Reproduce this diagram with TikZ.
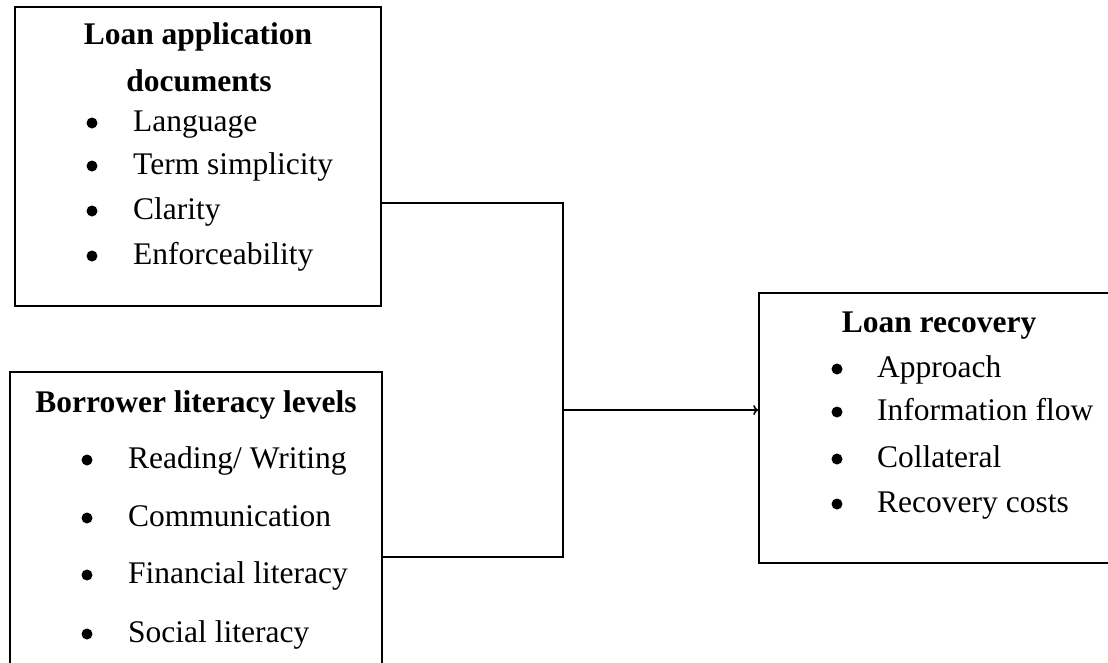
\documentclass[tikz,border=0pt]{standalone}
\usepackage{fontspec}
\setmainfont{Liberation Serif}
\usetikzlibrary{calc,arrows.meta}
\tikzset{
	box/.style={draw, line width=1.6pt, inner sep=0pt},
	txt/.style={font=\fontsize{31.5}{38}\selectfont, inner sep=0pt},
	dot/.style={circle, fill, inner sep=0pt, minimum size=11pt},
	item/.style={txt, anchor=mid west},
	head/.style={txt, font=\fontsize{31.5}{38}\selectfont\bfseries}
}

\begin{document}
\begin{tikzpicture}[x=1pt, y=-1pt]
		%%%%% START %%%%%
		\useasboundingbox (0, 0) rectangle (1108, 662);
		
		\node[box, minimum width=366pt, minimum height=299pt] (docs) at (198, 156.5) {};
		\node[box, minimum width=372pt, minimum height=318pt] (lit) at (196, 531) {};
		\node[box, minimum width=361pt, minimum height=270pt] (rec) at (939.5, 428) {};
		
		\node[head] (docsA) at (198, 37) {Loan application};
		\node[head] (docsB) at (199, 81) {documents};
		\node[dot] (b1) at (92, 123) {};
		\node[item] (i1) at (133, 129) {Language};
		\node[dot] (b2) at (92, 166) {};
		\node[item] (i2) at (133, 172) {Term simplicity};
		\node[dot] (b3) at (92, 211) {};
		\node[item] (i3) at (133, 217) {Clarity};
		\node[dot] (b4) at (92, 256) {};
		\node[item] (i4) at (133, 262) {Enforceability};
		
		\node[head] (litA) at (196, 405) {Borrower literacy levels};
		\node[dot] (c1) at (87, 460) {};
		\node[item] (j1) at (128, 466) {Reading/ Writing};
		\node[dot] (c2) at (87, 518) {};
		\node[item] (j2) at (128, 524) {Communication};
		\node[dot] (c3) at (87, 575) {};
		\node[item] (j3) at (128, 581) {Financial literacy};
		\node[dot] (c4) at (87, 634) {};
		\node[item] (j4) at (128, 640) {Social literacy};
		
		\node[head] (recA) at (939, 326) {Loan recovery};
		\node[dot] (e1) at (837, 369) {};
		\node[item] (k1) at (877, 375) {Approach};
		\node[dot] (e2) at (837, 412) {};
		\node[item] (k2) at (877, 418) {Information flow};
		\node[dot] (e3) at (837, 459) {};
		\node[item] (k3) at (877, 465) {Collateral};
		\node[dot] (e4) at (837, 504) {};
		\node[item] (k4) at (877, 510) {Recovery costs};
		
		% joining lines
		\coordinate (join) at (563, 410);
		\draw[line width=1.6pt] ($(docs.east)+(0, 46.5)$) -| (join);
		\draw[line width=1.6pt] ($(lit.east)+(0, 26)$) -| (join);
		\draw[line width=1.6pt, -{To[length=5pt, width=10pt]}] (join) -- (join -| rec.west);
		
		%%%%% END %%%%%
	\end{tikzpicture}
\end{document}
